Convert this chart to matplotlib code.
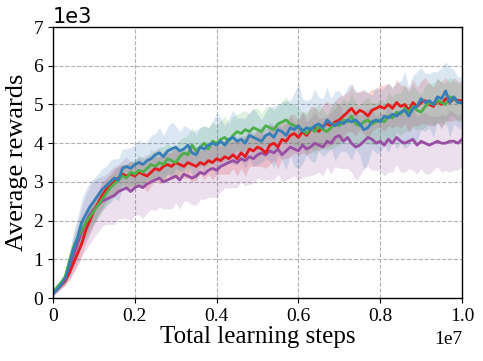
import numpy as np
import matplotlib
matplotlib.use("Agg")
import matplotlib.pyplot as plt

# mean rewards (in thousands), one value every 1e5 steps
steps = np.linspace(0, 1e7, 101)

blue_mean = [0.10, 0.22, 0.35, 0.50, 0.85, 1.25, 1.55, 1.95, 2.15, 2.35, 2.50, 2.65, 2.80, 2.90, 3.00, 3.10, 3.05, 3.35, 3.40, 3.35,
             3.45, 3.50, 3.45, 3.55, 3.60, 3.70, 3.75, 3.65, 3.80, 3.85, 3.90, 3.80, 3.85, 3.95, 3.75, 3.70, 3.90, 3.85, 3.95, 4.00,
             3.95, 4.05, 3.95, 4.10, 4.15, 4.05, 4.10, 4.00, 4.20, 4.15, 4.10, 4.05, 4.20, 4.25, 4.15, 4.35, 4.30, 4.20, 4.40, 4.35,
             4.45, 4.30, 4.40, 4.35, 4.45, 4.50, 4.40, 4.60, 4.50, 4.45, 4.55, 4.50, 4.60, 4.55, 4.60, 4.50, 4.35, 4.40, 4.55, 4.60,
             4.55, 4.70, 4.65, 4.75, 4.70, 4.80, 4.85, 4.70, 4.90, 4.95, 5.15, 5.05, 5.10, 5.00, 5.20, 5.15, 5.35, 5.05, 5.20, 5.05,
             5.05]
blue_std = [0.05, 0.08, 0.10, 0.15, 0.30, 0.45, 0.55, 0.60, 0.65, 0.65, 0.60, 0.55, 0.55, 0.50, 0.55, 0.50, 0.55, 0.50, 0.45, 0.55,
            0.50, 0.60, 0.55, 0.50, 0.60, 0.55, 0.65, 0.55, 0.60, 0.70, 0.55, 0.50, 0.60, 0.45, 0.55, 0.65, 0.50, 0.60, 0.45, 0.55,
            0.85, 0.60, 0.50, 0.55, 0.70, 0.60, 0.55, 0.65, 0.60, 0.75, 0.65, 0.55, 0.60, 0.70, 0.80, 0.65, 0.75, 0.90, 0.70, 0.95,
            1.10, 0.85, 0.70, 0.80, 0.95, 0.70, 0.75, 0.85, 0.65, 0.90, 0.80, 0.70, 0.85, 1.00, 0.75, 0.80, 1.05, 0.90, 0.70, 0.85,
            0.80, 0.75, 0.90, 0.70, 0.85, 0.80, 1.00, 0.75, 0.85, 0.90, 0.80, 0.75, 0.70, 0.85, 0.65, 0.80, 0.75, 0.90, 0.70, 0.65,
            0.70]

red_mean = [0.12, 0.22, 0.33, 0.45, 0.65, 0.90, 1.15, 1.40, 1.75, 2.00, 2.25, 2.45, 2.65, 2.80, 2.90, 3.00, 3.10, 3.20, 3.15, 3.20,
            3.15, 3.25, 3.20, 3.15, 3.25, 3.35, 3.30, 3.40, 3.45, 3.40, 3.50, 3.45, 3.40, 3.50, 3.45, 3.40, 3.50, 3.45, 3.55, 3.50,
            3.60, 3.55, 3.65, 3.60, 3.70, 3.60, 3.75, 3.65, 3.85, 3.80, 3.90, 3.85, 3.75, 3.95, 4.00, 3.90, 4.10, 4.05, 4.20, 4.25,
            4.15, 4.30, 4.20, 4.35, 4.40, 4.30, 4.45, 4.50, 4.45, 4.55, 4.60, 4.70, 4.80, 4.90, 4.75, 4.85, 4.80, 4.70, 4.85, 4.90,
            4.95, 4.90, 5.00, 4.90, 5.05, 4.95, 5.00, 4.85, 5.05, 4.95, 5.05, 5.10, 5.00, 4.95, 5.10, 5.00, 5.15, 5.05, 5.15, 5.10,
            5.10]
red_std = [0.05, 0.08, 0.10, 0.12, 0.20, 0.25, 0.30, 0.30, 0.35, 0.35, 0.35, 0.30, 0.35, 0.30, 0.30, 0.35, 0.30, 0.25, 0.30, 0.35,
           0.30, 0.35, 0.30, 0.40, 0.35, 0.30, 0.35, 0.40, 0.30, 0.35, 0.40, 0.35, 0.30, 0.40, 0.45, 0.35, 0.30, 0.40, 0.35, 0.45,
           0.40, 0.35, 0.45, 0.40, 0.35, 0.45, 0.40, 0.50, 0.45, 0.40, 0.50, 0.45, 0.40, 0.50, 0.45, 0.55, 0.50, 0.45, 0.55, 0.50,
           0.45, 0.55, 0.50, 0.60, 0.55, 0.50, 0.55, 0.60, 0.50, 0.55, 0.60, 0.55, 0.50, 0.60, 0.55, 0.50, 0.55, 0.60, 0.55, 0.50,
           0.55, 0.60, 0.55, 0.50, 0.60, 0.55, 0.50, 0.55, 0.60, 0.50, 0.55, 0.60, 0.55, 0.50, 0.55, 0.60, 0.55, 0.50, 0.55, 0.50,
           0.50]

green_mean = [0.15, 0.28, 0.40, 0.55, 0.95, 1.30, 1.55, 1.75, 1.95, 2.10, 2.25, 2.40, 2.55, 2.70, 2.85, 2.95, 3.05, 3.15, 3.10, 3.25,
              3.20, 3.30, 3.25, 3.35, 3.45, 3.40, 3.50, 3.45, 3.60, 3.55, 3.50, 3.65, 3.75, 3.70, 3.95, 3.80, 3.90, 4.00, 3.85, 4.05,
              4.00, 4.10, 4.15, 4.05, 4.20, 4.30, 4.25, 4.35, 4.30, 4.40, 4.35, 4.30, 4.45, 4.40, 4.35, 4.50, 4.55, 4.60, 4.50, 4.45,
              4.40, 4.35, 4.25, 4.40, 4.30, 4.45, 4.35, 4.30, 4.40, 4.50, 4.45, 4.60, 4.55, 4.70, 4.50, 4.45, 4.55, 4.60, 4.50, 4.55,
              4.60, 4.55, 4.70, 4.65, 4.80, 4.75, 4.90, 4.80, 4.95, 4.85, 4.80, 4.95, 5.05, 5.00, 5.10, 5.05, 5.00, 5.20, 5.15, 5.05,
              5.05]
green_std = [0.05, 0.08, 0.10, 0.15, 0.25, 0.30, 0.30, 0.35, 0.35, 0.30, 0.30, 0.35, 0.30, 0.35, 0.30, 0.30, 0.35, 0.30, 0.35, 0.30,
             0.35, 0.40, 0.35, 0.30, 0.40, 0.35, 0.40, 0.45, 0.40, 0.35, 0.40, 0.45, 0.40, 0.50, 0.45, 0.40, 0.50, 0.45, 0.55, 0.50,
             0.45, 0.50, 0.55, 0.45, 0.50, 0.45, 0.55, 0.50, 0.45, 0.50, 0.55, 0.45, 0.50, 0.55, 0.50, 0.45, 0.55, 0.60, 0.50, 0.55,
             0.50, 0.45, 0.55, 0.50, 0.60, 0.55, 0.50, 0.45, 0.55, 0.60, 0.50, 0.55, 0.50, 0.60, 0.55, 0.50, 0.55, 0.60, 0.55, 0.50,
             0.55, 0.50, 0.60, 0.55, 0.50, 0.55, 0.60, 0.50, 0.55, 0.50, 0.45, 0.55, 0.50, 0.55, 0.60, 0.50, 0.55, 0.50, 0.45, 0.50,
             0.50]

purple_mean = [0.12, 0.25, 0.38, 0.50, 0.80, 1.10, 1.40, 1.70, 1.95, 2.15, 2.30, 2.40, 2.50, 2.55, 2.60, 2.65, 2.75, 2.80, 2.85, 2.75,
               2.85, 2.90, 2.85, 2.95, 3.00, 3.05, 3.10, 3.00, 3.05, 3.10, 3.15, 3.05, 3.20, 3.15, 3.10, 3.15, 3.25, 3.20, 3.30, 3.35,
               3.30, 3.40, 3.45, 3.50, 3.55, 3.50, 3.60, 3.55, 3.65, 3.60, 3.70, 3.75, 3.70, 3.80, 3.75, 3.85, 3.70, 3.80, 3.90, 3.85,
               3.80, 3.95, 3.85, 3.90, 4.00, 3.95, 3.90, 4.05, 4.00, 4.15, 4.20, 4.05, 4.15, 4.00, 3.90, 3.95, 4.05, 4.15, 4.10, 4.00,
               4.05, 3.95, 4.10, 4.00, 4.15, 4.05, 4.00, 4.05, 4.10, 3.95, 4.05, 4.00, 3.95, 4.00, 4.05, 4.00, 4.00, 4.05, 4.05, 4.00,
               4.10]
purple_std = [0.05, 0.08, 0.12, 0.15, 0.30, 0.45, 0.55, 0.65, 0.70, 0.75, 0.75, 0.70, 0.65, 0.65, 0.70, 0.75, 0.70, 0.75, 0.80, 0.75,
              0.70, 0.75, 0.80, 0.75, 0.70, 0.80, 0.75, 0.70, 0.75, 0.80, 0.70, 0.75, 0.70, 0.65, 0.70, 0.75, 0.70, 0.65, 0.70, 0.75,
              0.70, 0.65, 0.60, 0.65, 0.70, 0.65, 0.60, 0.65, 0.70, 0.65, 0.60, 0.70, 0.65, 0.75, 0.70, 0.65, 0.70, 0.75, 0.80, 0.70,
              0.75, 0.85, 0.70, 0.75, 0.80, 0.70, 0.75, 0.65, 0.80, 0.75, 0.85, 0.70, 0.80, 0.75, 0.85, 0.80, 0.70, 0.75, 0.80, 0.70,
              0.75, 0.80, 0.85, 0.75, 0.70, 0.80, 0.75, 0.70, 0.80, 0.75, 0.70, 0.80, 0.75, 0.70, 0.65, 0.75, 0.70, 0.80, 0.75, 0.70,
              0.70]

series = [
    (purple_mean, purple_std, "#984ea3"),
    (red_mean, red_std, "#e41a1c"),
    (green_mean, green_std, "#4daf4a"),
    (blue_mean, blue_std, "#377eb8"),
]

x_ticks = [0, 0.2e7, 0.4e7, 0.6e7, 0.8e7, 1.0e7]
x_ticklabels = ["0", "0.2", "0.4", "0.6", "0.8", "1.0"]
y_ticks = [0, 1000, 2000, 3000, 4000, 5000, 6000, 7000]

plt.rcParams["font.family"] = "Liberation Serif"

fig = plt.figure(figsize=(4.83, 3.61), dpi=100)
ax = fig.add_axes([0.1097, 0.1745, 0.8468, 0.7505])

# bands first, then lines on top
for mean, std, color in series:
    m = np.array(mean) * 1000
    s = np.array(std) * 1000
    ax.fill_between(steps, m - s, m + s, color=color, alpha=0.18, linewidth=0)
for mean, std, color in series:
    ax.plot(steps, np.array(mean) * 1000, color=color, linewidth=2)

ax.set_xlim(0, 1e7)
ax.set_ylim(0, 7000)
ax.set_xticks(x_ticks)
ax.set_xticklabels(x_ticklabels)
ax.set_yticks(y_ticks)
ax.ticklabel_format(axis="y", style="sci", scilimits=(0, 0))
ax.yaxis.get_offset_text().set_fontfamily("DejaVu Sans")
ax.yaxis.get_offset_text().set_fontsize(15)
ax.tick_params(labelsize=14)
ax.grid(True, linestyle="--", color="#b0b0b0", linewidth=0.8)
ax.set_axisbelow(True)
for sp in ax.spines.values():
    sp.set_linewidth(1.0)

ax.set_xlabel("Total learning steps", fontsize=18, labelpad=1)
ax.set_ylabel("Average rewards", fontsize=19, labelpad=4)
ax.text(1.0, -0.12, "1e7", transform=ax.transAxes, ha="right", va="top", fontsize=14)

fig.savefig("out.png", dpi=100)
